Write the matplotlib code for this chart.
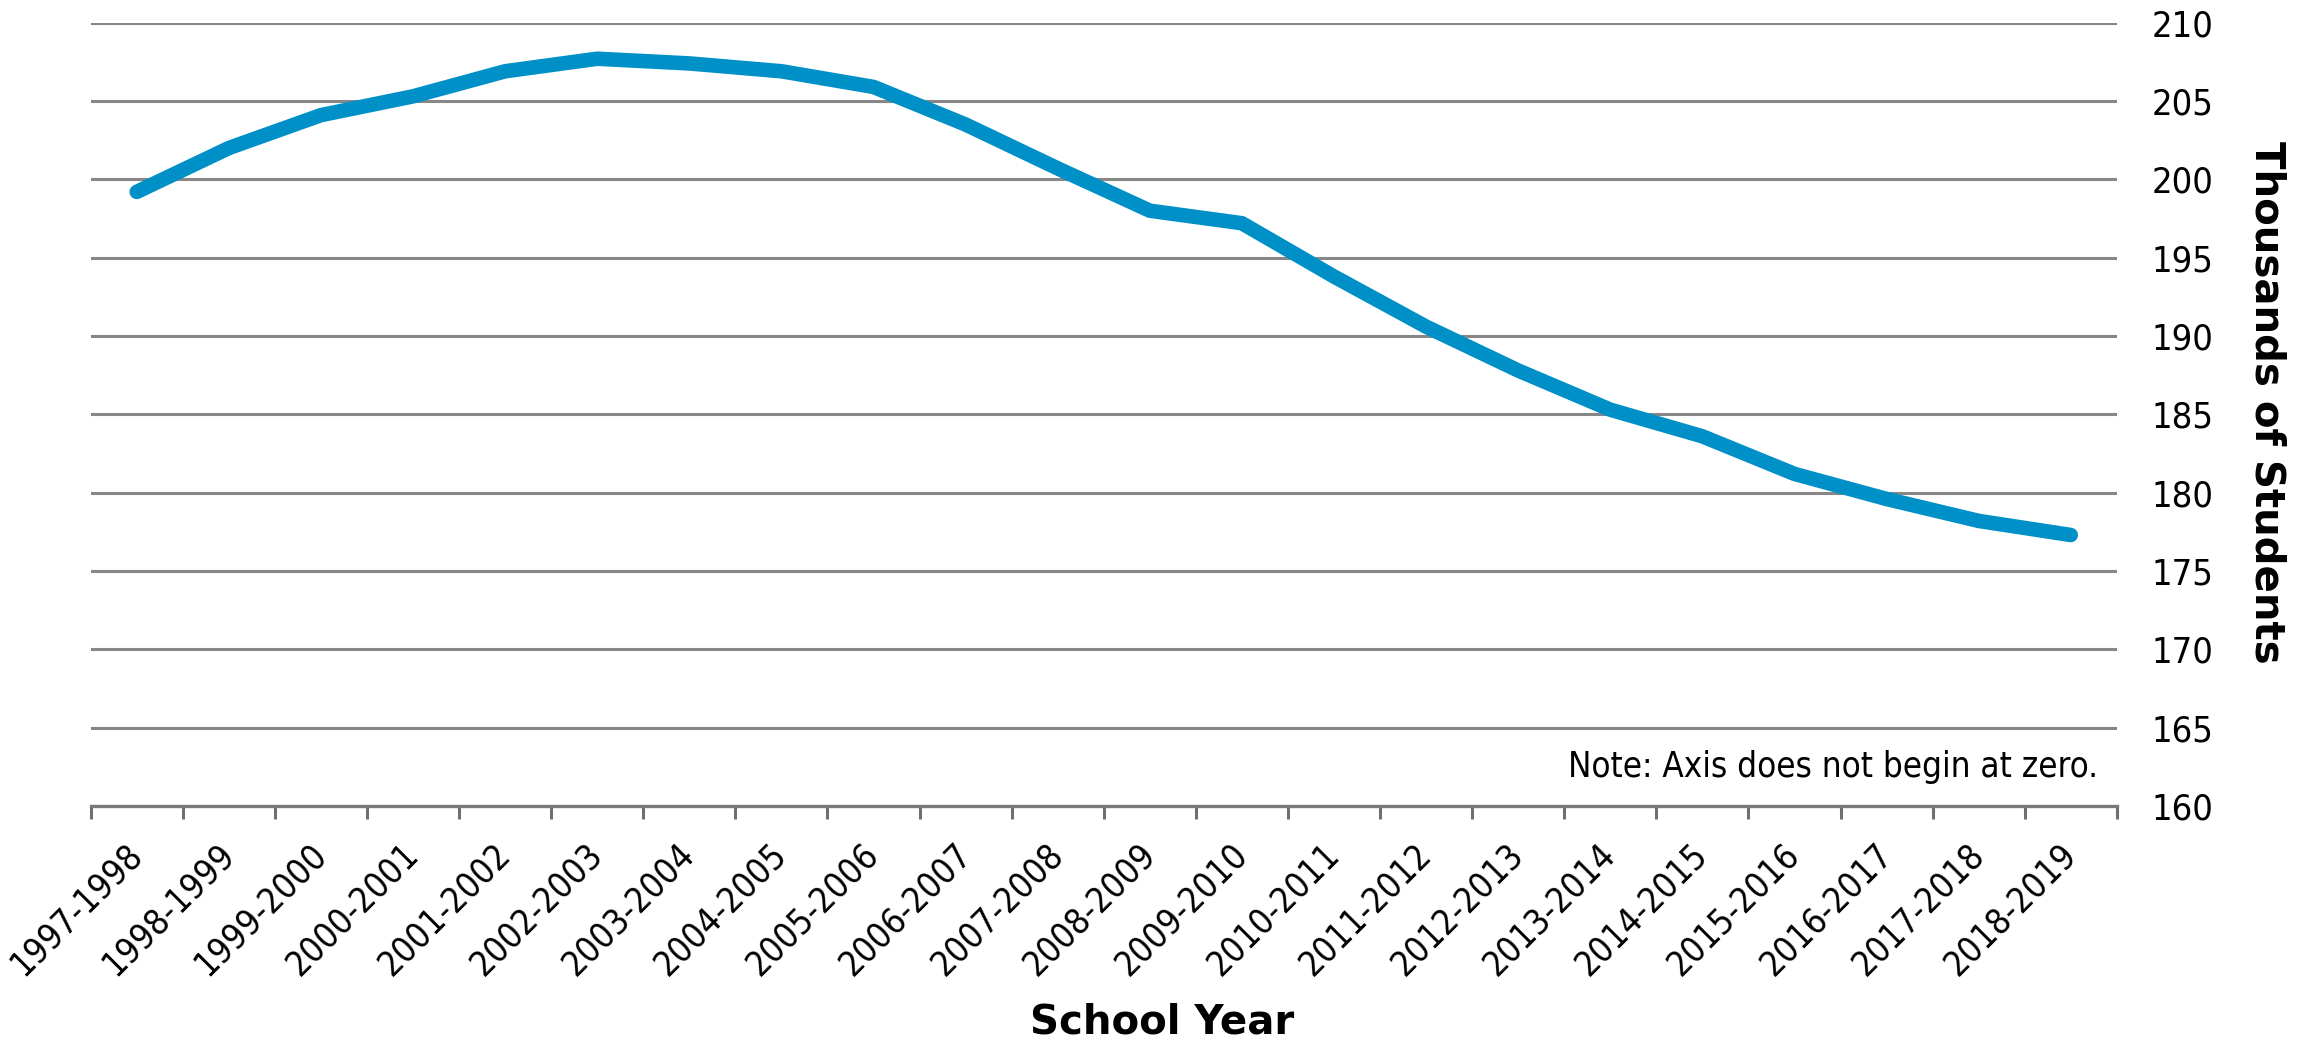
import numpy as np
import matplotlib.pyplot as plt

years = ['1997-1998', '1998-1999', '1999-2000', '2000-2001', '2001-2002',
         '2002-2003', '2003-2004', '2004-2005', '2005-2006', '2006-2007',
         '2007-2008', '2008-2009', '2009-2010', '2010-2011', '2011-2012',
         '2012-2013', '2013-2014', '2014-2015', '2015-2016', '2016-2017',
         '2017-2018', '2018-2019']
students = [199.2, 202.0, 204.1, 205.3, 206.9, 207.7, 207.4, 206.9, 205.9,
            203.5, 200.7, 198.0, 197.2, 193.8, 190.6, 187.8, 185.3, 183.6,
            181.2, 179.6, 178.2, 177.3]
yticks = [160, 165, 170, 175, 180, 185, 190, 195, 200, 205, 210]

grey = '#878787'
tick_font = dict(family='DejaVu Sans', stretch='condensed', size=25)
ytick_font = dict(family='DejaVu Sans', stretch='condensed', size=26)

fig = plt.figure(figsize=(23.05, 10.41), dpi=100)
ax = fig.add_axes([0.03935, 0.2257, 0.879, 0.7525])

x = np.arange(len(years))
ax.plot(x, students, color='#0090c8', lw=10.5, solid_capstyle='round',
        solid_joinstyle='round', zorder=3)

ax.set_xlim(-0.5, len(years) - 0.5)
ax.set_ylim(160, 210)
ax.set_yticks(yticks)
ax.grid(axis='y', color=grey, lw=2.2)
ax.set_axisbelow(True)

for s in ['top', 'left', 'right']:
    ax.spines[s].set_visible(False)
ax.spines['bottom'].set_color('#7a7a7a')
ax.spines['bottom'].set_linewidth(2.4)

ax.yaxis.tick_right()
ax.tick_params(axis='y', length=0, pad=25)
ax.set_yticklabels([str(v) for v in yticks], fontdict=ytick_font)

ax.set_xticks(x)
ax.set_xticks(np.arange(-0.5, len(years)), minor=True)
ax.tick_params(axis='x', which='major', length=0, pad=31)
ax.tick_params(axis='x', which='minor', length=9, width=2.2, color='#6f6f6f')
ax.set_xticklabels(years, fontdict=tick_font, rotation=45, ha='right',
                   va='center', rotation_mode='anchor')
for lbl in ax.get_xticklabels():
    lbl.set_x(lbl.get_position()[0])

ax.set_xlabel('School Year', fontsize=29, fontweight='bold', va='baseline')
ax.xaxis.set_label_coords(0.529, -0.29)
ax.yaxis.set_label_position('right')
ax.set_ylabel('Thousands of Students', fontsize=29, fontweight='bold',
              rotation=270, ha='center', va='center')
ax.yaxis.set_label_coords(1.074, 0.516)

ax.text(0.991, 0.037, 'Note: Axis does not begin at zero.', transform=ax.transAxes,
        ha='right', va='baseline', fontdict=tick_font)

fig.savefig('out.png', dpi=100)
